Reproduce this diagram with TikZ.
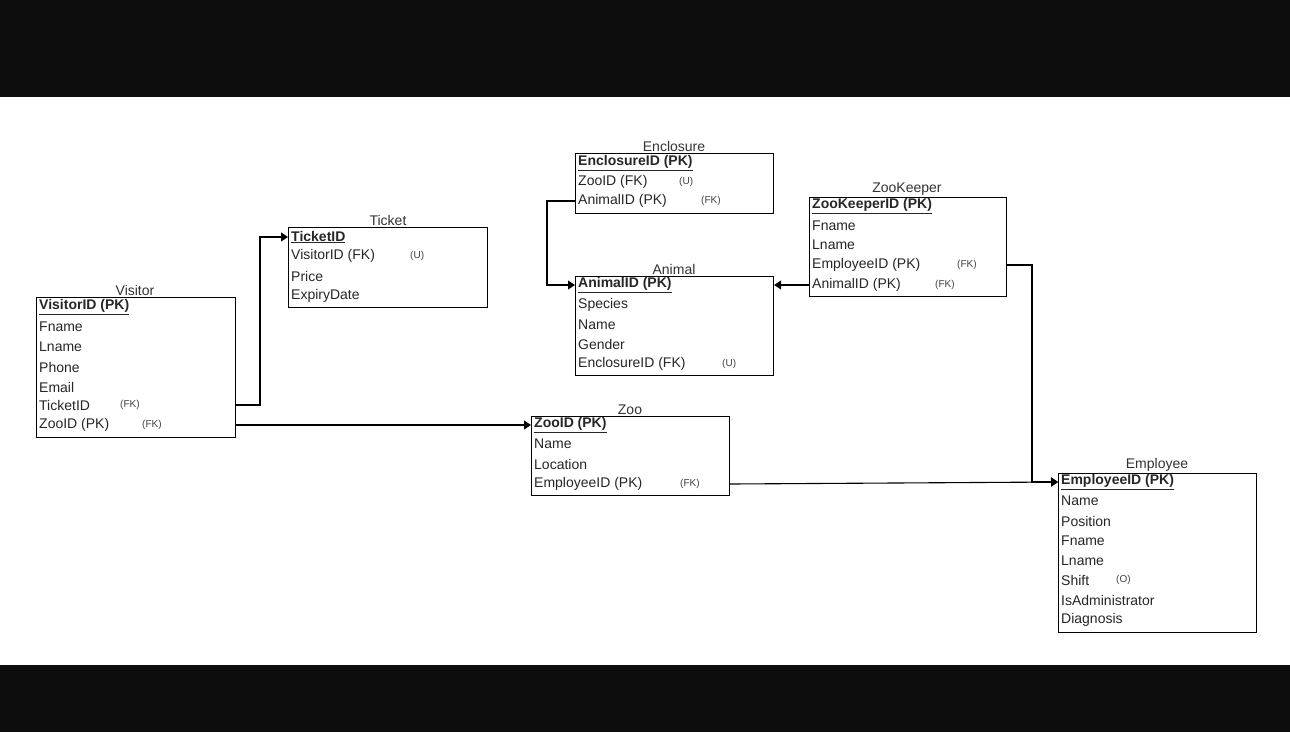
\documentclass[tikz,border=0pt]{standalone}
\usepackage{fontspec}
\setmainfont{Liberation Sans}
\usetikzlibrary{arrows.meta}
\begin{document}
\begin{tikzpicture}[x=1pt,y=-1pt,
  tbl/.style={draw=black,line width=1.1pt,anchor=north west,inner sep=0pt},
  row/.style={anchor=west,inner sep=0pt,font=\fontsize{14}{16}\selectfont,text=black!85},
  note/.style={anchor=west,inner sep=0pt,font=\fontsize{10}{12}\selectfont,text=black!75},
  ttl/.style={anchor=south,inner sep=0pt,font=\fontsize{14}{16}\selectfont,text=black!80},
  con/.style={line width=1.1pt,-{Triangle[length=7pt,width=9pt]}},
  lin/.style={line width=1.1pt}]
\useasboundingbox (0,0) rectangle (1290,732);
\fill[white] (0,0) rectangle (1290,732);
\fill[black!95] (0,0) rectangle (1290,97);
\fill[black!95] (0,665) rectangle (1290,732);
% table macro-like definitions
\newcommand{\ertable}[6]{% name, x, y, w, title, rows
  \node[tbl,minimum width=#4pt,minimum height=#6pt] (#1) at (#2,#3) {};
  \node[ttl] (#1t) at ($(#2,#3)+(#4/2,-0.5)$) {#5};
}
\usetikzlibrary{calc}
% Visitor
\node[tbl,minimum width=199pt,minimum height=140pt] (vis) at (36,297) {};
\node[ttl] (vist) at (135,296) {Visitor};
\node[row] (v0) at (39,307) {\textbf{\underline{VisitorID (PK)}}};
\node[row] (v1) at (39,327) {Fname};
\node[row] (v2) at (39,347) {Lname};
\node[row] (v3) at (39,367) {Phone};
\node[row] (v4) at (39,387) {Email};
\node[row] (v5) at (39,405) {TicketID};
\node[note] (v5n) at (120,405) {(FK)};
\node[row] (v6) at (39,425) {ZooID (PK)};
\node[note] (v6n) at (142,425) {(FK)};
% Ticket
\node[tbl,minimum width=199pt,minimum height=80pt] (tic) at (288,227) {};
\node[ttl] (tict) at (388,226) {Ticket};
\node[row] (t0) at (291,237) {\textbf{\underline{TicketID}}};
\node[row] (t1) at (291,256) {VisitorID (FK)};
\node[note] (t1n) at (410,256) {(U)};
\node[row] (t2) at (291,276) {Price};
\node[row] (t3) at (291,296) {ExpiryDate};
% Enclosure
\node[tbl,minimum width=198pt,minimum height=60pt] (enc) at (575,153) {};
\node[ttl] (enct) at (674,152) {Enclosure};
\node[row] (e0) at (578,163) {\textbf{\underline{EnclosureID (PK)}}};
\node[row] (e1) at (578,182) {ZooID (FK)};
\node[note] (e1n) at (679,182) {(U)};
\node[row] (e2) at (578,201) {AnimalID (PK)};
\node[note] (e2n) at (701,201) {(FK)};
% Animal
\node[tbl,minimum width=198pt,minimum height=99pt] (ani) at (575,276) {};
\node[ttl] (anit) at (674,275) {Animal};
\node[row] (a0) at (578,285) {\textbf{\underline{AnimalID (PK)}}};
\node[row] (a1) at (578,305) {Species};
\node[row] (a2) at (578,325) {Name};
\node[row] (a3) at (578,344) {Gender};
\node[row] (a4) at (578,364) {EnclosureID (FK)};
\node[note] (a4n) at (722,364) {(U)};
% ZooKeeper
\node[tbl,minimum width=197pt,minimum height=99pt] (zk) at (809,197) {};
\node[ttl] (zkt) at (907,196) {ZooKeeper};
\node[row] (k0) at (812,206) {\textbf{\underline{ZooKeeperID (PK)}}};
\node[row] (k1) at (812,226) {Fname};
\node[row] (k2) at (812,245) {Lname};
\node[row] (k3) at (812,265) {EmployeeID (PK)};
\node[note] (k3n) at (957,265) {(FK)};
\node[row] (k4) at (812,285) {AnimalID (PK)};
\node[note] (k4n) at (935,285) {(FK)};
% Zoo
\node[tbl,minimum width=198pt,minimum height=79pt] (zoo) at (531,416) {};
\node[ttl] (zoot) at (630,415) {Zoo};
\node[row] (z0) at (534,425) {\textbf{\underline{ZooID (PK)}}};
\node[row] (z1) at (534,444) {Name};
\node[row] (z2) at (534,464) {Location};
\node[row] (z3) at (534,484) {EmployeeID (PK)};
\node[note] (z3n) at (680,484) {(FK)};
% Employee
\node[tbl,minimum width=198pt,minimum height=159pt] (emp) at (1058,473) {};
\node[ttl] (empt) at (1157,472) {Employee};
\node[row] (p0) at (1061,482) {\textbf{\underline{EmployeeID (PK)}}};
\node[row] (p1) at (1061,501) {Name};
\node[row] (p2) at (1061,521) {Position};
\node[row] (p3) at (1061,541) {Fname};
\node[row] (p4) at (1061,561) {Lname};
\node[row] (p5) at (1061,580) {Shift};
\node[note] (p5n) at (1116,580) {(O)};
\node[row] (p6) at (1061,600) {IsAdministrator};
\node[row] (p7) at (1061,620) {Diagnosis};
% connectors
\draw[con] (vis.east |- v5) -- (260,405) -- (260,237) -- (tic.west |- t0);
\draw[con] (vis.east |- v6) -- (zoo.west |- v6);
\draw[con] (enc.west |- e2) -- (547,201) -- (547,285) -- (ani.west |- a0);
\draw[con] (zk.west |- k4) -- (ani.east |- k4);
\draw[con] (zk.east |- k3) -- (1032,265) -- (1032,482) -- (emp.west |- p0);
\draw[con] (zoo.east |- z3) -- (emp.west |- p0);
\end{tikzpicture}
\end{document}
